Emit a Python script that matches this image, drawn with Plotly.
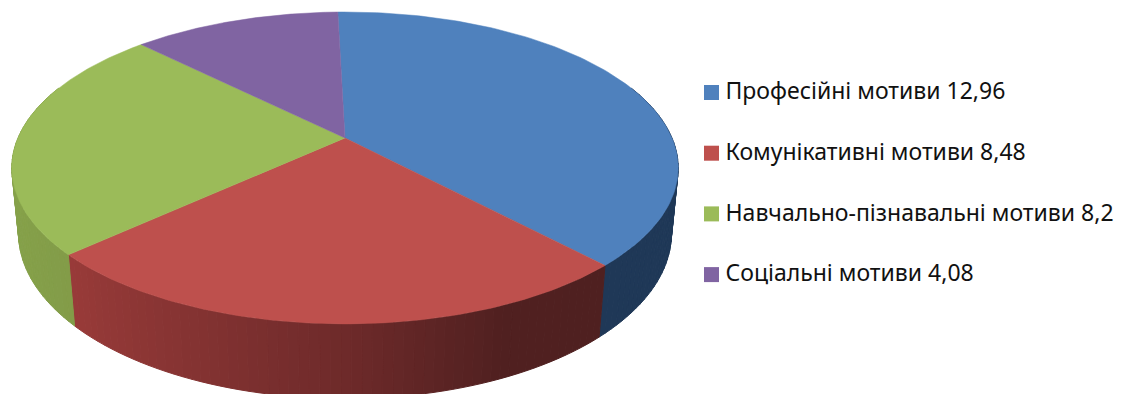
import numpy as np
import plotly.graph_objects as go

categories = ["Професійні мотиви", "Комунікативні мотиви", "Навчально-пізнавальні мотиви", "Соціальні мотиви"]
values = [12.96, 8.48, 8.2, 4.08]
top_colors = ["#4F81BD", "#BE504D", "#9BBB59", "#8064A2"]

# Perspective camera for the tilted disc (pixel space of the page)
CX, CY = 345.0, 138.0
A, B, C = 327.0, 150.2, 65.6
K, M = 0.192, 0.02
FIRST_ANGLE = -1.5


def project(theta_deg, radius=1.0, z=0.0):
    t = np.radians(theta_deg)
    px, py = radius * np.sin(t), radius * np.cos(t)
    d = 1 + K * py + M * z
    return CX + A * px / d, CY + (-B * py + C * z) / d


def mix(stops, s):
    pos = [p for p, _ in stops]
    return "rgb({:.0f},{:.0f},{:.0f})".format(*[np.interp(s, pos, [c[i] for _, c in stops]) for i in range(3)])


# Side-wall shading per slice, as a function of sin(angle) across the disc
wall_shades = [
    [(-1, (31, 56, 87)), (1, (31, 56, 87))],
    [(-0.8, (156, 60, 58)), (0.0, (110, 42, 42)), (0.4, (80, 32, 32)), (1, (78, 32, 32))],
    [(-1, (134, 162, 74)), (-0.7, (130, 155, 72)), (1, (130, 155, 72))],
    [(-1, (90, 70, 115)), (1, (90, 70, 115))],
]

sweeps = 360 * np.array(values) / sum(values)
edges = FIRST_ANGLE + np.concatenate([[0], np.cumsum(sweeps)])

fig = go.Figure()

# Side wall, cut into narrow facets so the shading can vary along the rim
for i in range(len(values)):
    a0, a1 = edges[i], edges[i + 1]
    n = max(2, int((a1 - a0) / 1.5))
    steps = np.linspace(a0, a1, n + 1)
    for s0, s1 in zip(steps[:-1], steps[1:]):
        mid = (s0 + s1) / 2
        if np.cos(np.radians(mid)) > 0.35:
            continue
        col = mix(wall_shades[i], np.sin(np.radians(mid)))
        xt, yt = project(np.array([s0, s1]))
        xb, yb = project(np.array([s1, s0]), z=1.0)
        fig.add_trace(go.Scatter(
            x=np.r_[xt, xb, xt[0]], y=np.r_[yt, yb, yt[0]],
            mode="lines", fill="toself", fillcolor=col,
            line=dict(color=col, width=1), hoverinfo="skip"))

# Top face of each slice
for i, name in enumerate(categories):
    arc = np.linspace(edges[i], edges[i + 1], 120)
    ax, ay = project(arc)
    fig.add_trace(go.Scatter(
        x=np.r_[CX, ax, CX], y=np.r_[CY, ay, CY],
        mode="lines", fill="toself", fillcolor=top_colors[i],
        line=dict(color=top_colors[i], width=0.5), name=name, hoverinfo="name"))

# Key on the right
KEY_X, TEXT_X, KEY_Y, KEY_STEP, TEXT_DROP = 711.5, 725.5, 92.5, 60.7, 1.0
key_y = [KEY_Y + KEY_STEP * i for i in range(len(values))]
key_text = [f"{c} {v:g}".replace(".", ",") for c, v in zip(categories, values)]
fig.add_trace(go.Scatter(
    x=[KEY_X] * len(values), y=key_y, mode="markers",
    marker=dict(symbol="square", size=15, color=top_colors), hoverinfo="skip"))
fig.add_trace(go.Scatter(
    x=[TEXT_X] * len(values), y=[k + TEXT_DROP for k in key_y], mode="text", text=key_text,
    textposition="middle right",
    textfont=dict(family="Noto Sans", size=23, color="#111111"), hoverinfo="skip"))

fig.update_layout(
    width=1121, height=394, autosize=False,
    margin=dict(l=0, r=0, t=0, b=0),
    showlegend=False, paper_bgcolor="white", plot_bgcolor="white",
    xaxis=dict(range=[0, 1121], visible=False, fixedrange=True),
    yaxis=dict(range=[394, 0], visible=False, fixedrange=True),
)

fig.write_html("out.html", config={"displayModeBar": False})
